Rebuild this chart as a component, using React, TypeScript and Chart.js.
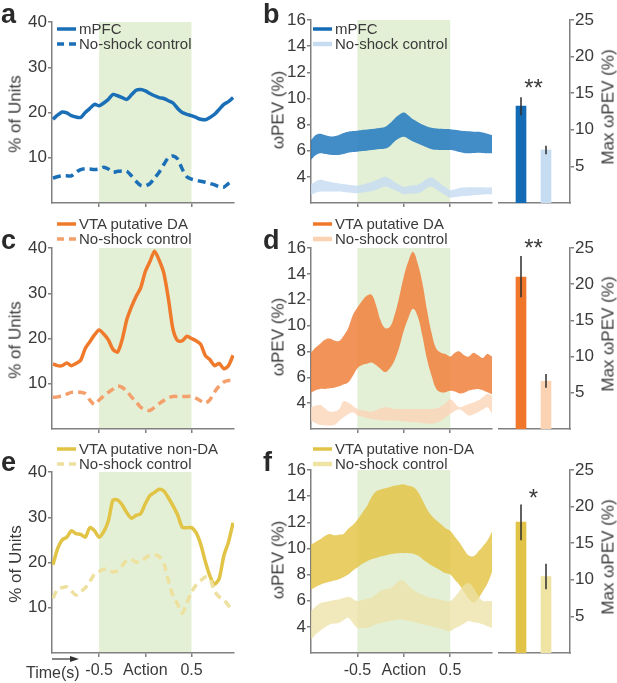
import { useEffect, useRef } from 'react';
import { Chart, ChartConfiguration, Plugin, registerables } from 'chart.js';

Chart.register(...registerables);

const FONT = '"Liberation Sans", Arial, Helvetica, sans-serif';
const INK = '#3a3a3a';
const AXIS = '#808080';
const SHADE = 'rgb(228,240,214)';

// time bins (s), 0 = action
const timeBins = [
  -1.0, -0.95, -0.9, -0.85, -0.8, -0.75, -0.7, -0.65, -0.6, -0.55,
  -0.5, -0.45, -0.4, -0.35, -0.3, -0.25, -0.2, -0.15, -0.1, -0.05,
  0.0, 0.05, 0.1, 0.15, 0.2, 0.25, 0.3, 0.35, 0.4, 0.45,
  0.5, 0.55, 0.6, 0.65, 0.7, 0.75, 0.8, 0.85, 0.9, 0.95,
];
const actionWindow = [-0.5, 0.5];
const timeTicks = [-0.5, 0, 0.5];
const timeTickLabels = ['-0.5', 'Action', '0.5'];
const unitTicks = [10, 20, 30, 40];
const pevTicks = [4, 6, 8, 10, 12, 14, 16];
const maxPevTicks = [5, 10, 15, 20, 25];

// % of units (a, c, e)
const mpfcUnits = [18.5, 19.4, 20.1, 19.9, 19.3, 19.0, 18.9, 20.0, 20.9, 21.8, 21.5, 22.1, 22.9, 24.0, 23.7, 23.3, 22.9, 23.9, 24.9, 25.1, 24.8, 24.2, 23.7, 23.3, 23.1, 22.6, 22.1, 20.9, 20.0, 19.6, 19.3, 18.9, 18.5, 18.4, 18.9, 19.6, 20.7, 21.8, 22.4, 23.3];
const mpfcCtrlUnits = [5.5, 5.8, 6.0, 6.0, 6.0, 6.8, 7.4, 7.6, 7.5, 7.4, 7.5, 7.9, 7.5, 6.8, 7.0, 7.1, 7.0, 6.0, 4.8, 3.9, 3.8, 4.3, 5.5, 6.8, 8.5, 10.0, 10.4, 9.7, 7.5, 5.8, 5.3, 5.0, 4.8, 4.6, 4.3, 4.0, 3.6, 3.5, 4.3, 5.0];
const daUnits = [14.4, 14.0, 14.0, 14.6, 14.0, 14.5, 15.2, 17.8, 19.3, 20.8, 21.9, 21.0, 19.7, 17.6, 17.0, 19.8, 24.2, 27.0, 29.3, 31.2, 34.8, 37.0, 39.3, 37.3, 34.5, 28.8, 22.0, 19.5, 19.5, 20.5, 20.0, 19.5, 18.7, 16.2, 15.3, 14.0, 14.5, 13.3, 14.0, 16.3];
const daCtrlUnits = [7.0, 7.1, 7.3, 7.7, 8.1, 8.1, 8.1, 7.8, 6.4, 5.4, 6.4, 7.3, 8.1, 8.8, 9.5, 9.2, 8.3, 7.1, 6.0, 4.8, 4.3, 4.1, 4.8, 5.6, 6.3, 6.9, 7.2, 7.2, 7.2, 7.2, 7.2, 6.8, 6.2, 5.7, 6.5, 8.2, 9.5, 10.4, 10.7, 10.7];
const nonDaUnits = [19.5, 23.0, 25.0, 25.6, 27.0, 26.4, 26.2, 25.6, 27.7, 27.0, 25.6, 26.8, 29.2, 33.8, 33.8, 32.7, 31.0, 29.8, 30.4, 30.8, 33.0, 34.8, 35.5, 36.2, 35.8, 34.3, 32.5, 30.5, 27.8, 27.7, 27.7, 26.6, 24.0, 20.2, 17.0, 15.2, 16.5, 21.5, 24.5, 28.8];
const nonDaCtrlUnits = [12.1, 14.1, 14.45, 14.6, 13.7, 12.8, 13.5, 14.4, 15.8, 17.4, 18.0, 18.5, 18.4, 17.9, 18.2, 19.3, 20.5, 20.6, 20.1, 20.2, 21.0, 21.6, 21.7, 21.3, 19.8, 16.0, 12.7, 10.75, 8.8, 11.1, 13.5, 15.0, 16.0, 16.8, 16.4, 13.6, 12.4, 11.7, 10.5, 9.35];

// wPEV bands, upper / lower edge (b, d, f)
const mpfcPevHi = [6.8, 7.2, 7.3, 7.2, 7.1, 7.1, 7.2, 7.35, 7.45, 7.5, 7.53, 7.58, 7.62, 7.66, 7.7, 7.75, 7.84, 8.1, 8.45, 8.75, 8.93, 8.7, 8.4, 8.2, 8.0, 7.85, 7.75, 7.7, 7.68, 7.66, 7.65, 7.6, 7.55, 7.5, 7.48, 7.46, 7.45, 7.4, 7.3, 7.2];
const mpfcPevLo = [5.3, 5.65, 5.8, 5.75, 5.7, 5.68, 5.68, 5.75, 5.85, 5.9, 5.93, 5.97, 6.0, 6.05, 6.1, 6.13, 6.17, 6.35, 6.7, 6.95, 7.07, 6.9, 6.7, 6.55, 6.4, 6.25, 6.12, 6.07, 6.05, 6.05, 6.05, 6.0, 5.9, 5.82, 5.8, 5.82, 5.85, 5.83, 5.8, 5.8];
const mpfcCtrlPevHi = [3.4, 3.65, 3.77, 3.7, 3.62, 3.55, 3.5, 3.45, 3.4, 3.35, 3.33, 3.4, 3.5, 3.6, 3.75, 3.9, 4.0, 3.85, 3.6, 3.4, 3.25, 3.3, 3.35, 3.4, 3.6, 3.85, 3.95, 3.75, 3.45, 3.2, 3.0, 3.05, 3.15, 3.18, 3.2, 3.2, 3.2, 3.2, 3.18, 3.2];
const mpfcCtrlPevLo = [2.62, 2.78, 2.88, 2.88, 2.88, 2.88, 2.88, 2.85, 2.8, 2.77, 2.75, 2.8, 2.85, 2.9, 3.0, 3.15, 3.26, 3.15, 3.0, 2.85, 2.67, 2.7, 2.73, 2.75, 2.9, 3.15, 3.25, 3.05, 2.8, 2.6, 2.42, 2.45, 2.5, 2.53, 2.56, 2.6, 2.62, 2.65, 2.67, 2.67];
const daPevHi = [7.9, 8.3, 8.6, 8.9, 9.0, 8.85, 8.8, 9.2, 9.8, 10.8, 11.4, 11.9, 12.3, 12.4, 11.6, 10.4, 9.8, 9.9, 10.8, 12.2, 13.8, 15.0, 15.7, 14.8, 13.3, 11.2, 9.4, 8.2, 7.9, 7.8, 7.6, 7.9, 8.0, 7.7, 7.6, 7.9, 7.7, 7.5, 7.8, 7.6];
const daPevLo = [4.8, 5.0, 5.1, 5.1, 5.15, 5.2, 5.3, 5.45, 5.6, 6.1, 6.7, 6.95, 7.05, 7.15, 6.95, 6.65, 6.4, 6.7, 7.3, 8.3, 9.6, 10.6, 11.3, 10.7, 9.2, 7.4, 6.1, 5.1, 4.85, 4.85, 4.95, 4.9, 4.75, 4.8, 4.97, 5.05, 5.1, 5.0, 4.85, 4.7];
const daCtrlPevHi = [3.68, 3.8, 3.85, 3.6, 3.35, 3.35, 3.5, 4.15, 4.05, 3.8, 3.55, 3.45, 3.4, 3.35, 3.45, 3.6, 3.68, 3.62, 3.55, 3.55, 3.55, 3.55, 3.55, 3.55, 3.55, 3.55, 3.55, 3.6, 3.75, 4.0, 4.3, 4.0, 3.68, 3.8, 3.94, 4.05, 4.2, 4.45, 4.7, 4.58];
const daCtrlPevLo = [2.65, 2.45, 2.3, 2.27, 2.27, 2.3, 2.6, 2.9, 3.15, 3.3, 3.05, 2.95, 2.85, 2.78, 2.72, 2.68, 2.65, 2.65, 2.65, 2.62, 2.58, 2.55, 2.52, 2.5, 2.47, 2.43, 2.4, 2.5, 2.62, 2.9, 3.16, 3.4, 3.5, 3.3, 3.04, 3.15, 3.3, 3.5, 3.68, 3.2];
const nonDaPevHi = [10.3, 10.5, 10.7, 10.95, 11.1, 11.0, 11.05, 11.1, 11.5, 11.8, 12.2, 12.7, 13.2, 13.9, 14.35, 14.5, 14.6, 14.7, 14.8, 14.85, 14.9, 14.8, 14.7, 14.35, 13.7, 13.0, 12.5, 12.15, 11.85, 11.55, 11.35, 10.9, 10.45, 9.9, 9.45, 9.4, 9.75, 10.15, 10.6, 11.3];
const nonDaPevLo = [6.85, 7.05, 7.22, 7.35, 7.45, 7.55, 7.65, 7.8, 8.0, 8.3, 8.55, 8.8, 9.0, 9.17, 9.27, 9.38, 9.45, 9.55, 9.62, 9.64, 9.64, 9.64, 9.6, 9.45, 9.2, 8.95, 8.7, 8.5, 8.3, 8.1, 8.0, 7.6, 7.2, 6.65, 6.15, 5.85, 6.15, 6.7, 7.3, 8.2];
const nonDaCtrlPevHi = [5.2, 5.55, 5.8, 5.9, 5.97, 6.05, 6.1, 6.2, 6.3, 6.15, 5.97, 6.05, 6.15, 6.23, 6.5, 6.75, 6.87, 6.95, 7.2, 7.55, 7.5, 7.13, 6.85, 6.6, 6.45, 6.3, 6.2, 6.15, 6.05, 6.0, 5.97, 6.3, 6.75, 7.2, 7.35, 7.0, 6.4, 6.0, 5.97, 5.97];
const nonDaCtrlPevLo = [3.03, 3.4, 3.7, 3.95, 4.18, 4.25, 4.3, 4.5, 4.7, 4.3, 3.92, 3.92, 3.92, 4.05, 4.2, 4.3, 4.38, 4.45, 4.52, 4.56, 4.52, 4.47, 4.4, 4.3, 4.2, 4.1, 4.05, 3.95, 3.85, 3.75, 3.67, 3.9, 4.05, 4.25, 4.44, 4.35, 4.3, 4.2, 4.05, 3.92];

// max wPEV bars: [shock, no-shock control]
const barSlots = [1, 2];
const mpfcMax = [13.25, 7.24];
const mpfcMaxTop = [14.45, 7.83];
const mpfcMaxBottom = [12.0, 6.65];
const daMax = [21.0, 6.6];
const daMaxTop = [23.9, 7.6];
const daMaxBottom = [18.2, 5.7];
const nonDaMax = [17.9, 10.45];
const nonDaMaxTop = [20.3, 12.2];
const nonDaMaxBottom = [15.4, 8.7];
const significance = ['**', '**', '*'];
const significanceAt = [16.4, 25.7, 21.9];

type Row = {
  letters: [string, string];
  name: string;
  line: string; dash: string; band: string; ctrlBand: string; bar: string; ctrlBar: string;
  units: number[]; ctrlUnits: number[];
  hi: number[]; lo: number[]; ctrlHi: number[]; ctrlLo: number[];
  max: number[]; maxTop: number[]; maxBottom: number[];
  sig: string; sigAt: number;
  unitsTop: number; pevTop: number; bottom: number; legendY: number; letterTop: number;
  showTime: boolean;
};

const rows: Row[] = [
  {
    letters: ['a', 'b'], name: 'mPFC',
    line: '#1b6fb7', dash: '#1b6fb7', band: 'rgba(30,118,190,0.84)', ctrlBand: 'rgba(196,219,241,0.8)', bar: '#136bb5', ctrlBar: '#c5dcf1',
    units: mpfcUnits, ctrlUnits: mpfcCtrlUnits,
    hi: mpfcPevHi, lo: mpfcPevLo, ctrlHi: mpfcCtrlPevHi, ctrlLo: mpfcCtrlPevLo,
    max: mpfcMax, maxTop: mpfcMaxTop, maxBottom: mpfcMaxBottom, sig: significance[0], sigAt: significanceAt[0],
    unitsTop: 22, pevTop: 20, bottom: 203, legendY: 29, letterTop: 1, showTime: false,
  },
  {
    letters: ['c', 'd'], name: 'VTA putative DA',
    line: '#f07a2c', dash: '#f4a06c', band: 'rgba(240,128,60,0.85)', ctrlBand: 'rgba(251,212,184,0.8)', bar: '#f0772a', ctrlBar: '#fbd3b3',
    units: daUnits, ctrlUnits: daCtrlUnits,
    hi: daPevHi, lo: daPevLo, ctrlHi: daCtrlPevHi, ctrlLo: daCtrlPevLo,
    max: daMax, maxTop: daMaxTop, maxBottom: daMaxBottom, sig: significance[1], sigAt: significanceAt[1],
    unitsTop: 248, pevTop: 248, bottom: 429, legendY: 224, letterTop: 227, showTime: false,
  },
  {
    letters: ['e', 'f'], name: 'VTA putative non-DA',
    line: '#e1c445', dash: '#eee09e', band: 'rgba(226,194,62,0.8)', ctrlBand: 'rgba(236,226,165,0.75)', bar: '#e1c447', ctrlBar: '#efe4a4',
    units: nonDaUnits, ctrlUnits: nonDaCtrlUnits,
    hi: nonDaPevHi, lo: nonDaPevLo, ctrlHi: nonDaCtrlPevHi, ctrlLo: nonDaCtrlPevLo,
    max: nonDaMax, maxTop: nonDaMaxTop, maxBottom: nonDaMaxBottom, sig: significance[2], sigAt: significanceAt[2],
    unitsTop: 472, pevTop: 470, bottom: 653, legendY: 449, letterTop: 449, showTime: true,
  },
];

const pts = (vals: number[]) => vals.map((y, i) => ({ x: timeBins[i], y }));
const fixedWidth = (w: number) => (scale: any) => { scale.width = w; };
const fixedHeight = (h: number) => (scale: any) => { scale.height = h; };

const actionShade: Plugin = {
  id: 'actionShade',
  beforeDraw(chart) {
    const { ctx, chartArea, scales } = chart;
    const x0 = scales.x.getPixelForValue(actionWindow[0]);
    const x1 = scales.x.getPixelForValue(actionWindow[1]);
    ctx.save();
    ctx.fillStyle = SHADE;
    ctx.fillRect(x0, chartArea.top, x1 - x0, chartArea.bottom - chartArea.top);
    ctx.restore();
  },
};

function axisLines() {
  return {
    grid: { display: true, drawOnChartArea: false, drawTicks: true, tickLength: 4, color: AXIS, lineWidth: 1.5 },
    border: { display: true, color: AXIS, width: 1.5 },
  };
}

function timeAxis(showLabels: boolean, height: number, min: number, max: number) {
  return {
    type: 'linear' as const,
    min, max,
    afterBuildTicks: (s: any) => { s.ticks = timeTicks.map((value) => ({ value })); },
    afterFit: fixedHeight(height),
    ...axisLines(),
    ticks: {
      display: showLabels, autoSkip: false, maxRotation: 0, padding: 4, color: INK,
      font: { family: FONT, size: 16 },
      callback: (_v: any, i: number) => timeTickLabels[i],
    },
  };
}

function valueAxis(min: number, max: number, ticks: number[], width: number) {
  return {
    type: 'linear' as const,
    min, max,
    afterBuildTicks: (s: any) => { s.ticks = ticks.map((value) => ({ value })); },
    afterFit: fixedWidth(width),
    ...axisLines(),
    ticks: { color: INK, padding: 1, font: { family: FONT, size: 17 } },
  };
}

const baseOptions = {
  responsive: false,
  animation: false as const,
  events: [] as any[],
};

function unitsConfig(row: Row): ChartConfiguration {
  return {
    type: 'line',
    data: {
      datasets: [
        { data: pts(row.ctrlUnits), borderColor: row.dash, borderWidth: 3.5, borderDash: [8, 5], pointRadius: 0, tension: 0.25, fill: false },
        { data: pts(row.units), borderColor: row.line, borderWidth: 3.5, borderJoinStyle: 'round', pointRadius: 0, tension: 0.25, fill: false },
      ],
    },
    options: {
      ...baseOptions,
      layout: { padding: { top: 22, right: 6, left: 0, bottom: 0 } },
      plugins: { legend: { display: false }, tooltip: { enabled: false } },
      scales: { x: timeAxis(row.showTime, 30, -1.01, 0.96), y: valueAxis(0, 40, unitTicks, 52) },
    } as any,
    plugins: [actionShade],
  };
}

function band(vals: number[], color: string, fill: any) {
  return { data: pts(vals), backgroundColor: color, borderColor: 'rgba(0,0,0,0)', borderWidth: 0, pointRadius: 0, tension: 0.4, fill };
}

function pevConfig(row: Row): ChartConfiguration {
  return {
    type: 'line',
    data: {
      datasets: [
        band(row.ctrlHi, row.ctrlBand, '+1'),
        band(row.ctrlLo, row.ctrlBand, false),
        band(row.hi, row.band, '+1'),
        band(row.lo, row.band, false),
      ],
    },
    options: {
      ...baseOptions,
      layout: { padding: { top: 20, right: 5, left: 0, bottom: 0 } },
      plugins: { legend: { display: false }, tooltip: { enabled: false } },
      scales: { x: timeAxis(row.showTime, 30, -1.0, 0.95), y: valueAxis(2, 16, pevTicks, 40) },
    } as any,
    plugins: [actionShade],
  };
}

function errorBars(row: Row): Plugin {
  return {
    id: 'errorBars',
    afterDatasetsDraw(chart) {
      const { ctx, scales } = chart;
      const x = scales.x;
      const y = scales.y;
      ctx.save();
      ctx.strokeStyle = '#2e2e2e';
      ctx.lineWidth = 1.5;
      barSlots.forEach((slot, i) => {
        const px = x.getPixelForValue(slot);
        ctx.beginPath();
        ctx.moveTo(px, y.getPixelForValue(row.maxTop[i]));
        ctx.lineTo(px, y.getPixelForValue(row.maxBottom[i]));
        ctx.stroke();
      });
      ctx.fillStyle = INK;
      ctx.font = `24px ${FONT}`;
      ctx.textAlign = 'center';
      ctx.textBaseline = 'alphabetic';
      const sx = x.getPixelForValue((barSlots[0] + barSlots[1]) / 2);
      ctx.fillText(row.sig, sx, y.getPixelForValue(row.sigAt) + 13);
      ctx.restore();
    },
  };
}

function maxConfig(row: Row): ChartConfiguration {
  return {
    type: 'bar',
    data: {
      datasets: [{
        data: barSlots.map((x, i) => ({ x, y: row.max[i] })),
        backgroundColor: [row.bar, row.ctrlBar],
        barThickness: 10,
      }],
    },
    options: {
      ...baseOptions,
      layout: { padding: { top: 20, right: 0, left: 0, bottom: 0 } },
      plugins: { legend: { display: false }, tooltip: { enabled: false } },
      scales: {
        x: {
          type: 'linear', min: 0.08, max: 2.96, offset: false,
          afterFit: fixedHeight(12),
          ticks: { display: false },
          grid: { display: false, offset: false },
          border: { display: true, color: AXIS, width: 1.5 },
        },
        y: { ...valueAxis(0, 25, maxPevTicks, 30), position: 'right' },
      },
    } as any,
    plugins: [errorBars(row)],
  };
}

function ChartCanvas({ make, left, top, width, height }: { make: () => ChartConfiguration; left: number; top: number; width: number; height: number }) {
  const canvasRef = useRef<HTMLCanvasElement>(null);
  useEffect(() => {
    if (!canvasRef.current) return;
    const chart = new Chart(canvasRef.current, make());
    return () => chart.destroy();
  }, []);
  return (
    <canvas ref={canvasRef} width={width} height={height}
      style={{ position: 'absolute', left, top, width, height }} />
  );
}

function LegendItem({ x, y, color, width, dashed, label }: { x: number; y: number; color: string; width: number; dashed?: boolean; label: string }) {
  return (
    <>
      <svg style={{ position: 'absolute', left: x, top: y - 4 }} width={19} height={8}>
        <line x1={0} y1={4} x2={19} y2={4} stroke={color} strokeWidth={width} strokeDasharray={dashed ? '7 5' : undefined} />
      </svg>
      <div style={{ position: 'absolute', left: x + 22, top: y - 9, fontSize: 15, lineHeight: '18px', whiteSpace: 'nowrap' }}>{label}</div>
    </>
  );
}

function VTitle({ cx, cy, text }: { cx: number; cy: number; text: string }) {
  return (
    <div style={{ position: 'absolute', left: cx, top: cy, transform: 'translate(-50%, -50%) rotate(-90deg)', fontSize: 17, lineHeight: 1, whiteSpace: 'nowrap' }}>{text}</div>
  );
}

function Letter({ x, y, text }: { x: number; y: number; text: string }) {
  return <div style={{ position: 'absolute', left: x, top: y, fontSize: 27, fontWeight: 'bold', lineHeight: 1, color: '#2a2a2a' }}>{text}</div>;
}

export default function App() {
  return (
    <div style={{ position: 'absolute', left: 0, top: 0, width: 617, height: 683, background: '#fff', fontFamily: FONT, color: INK, overflow: 'hidden' }}>
      {rows.map((row) => {
        const unitsCanvasTop = row.unitsTop - 22;
        const pevCanvasTop = row.pevTop - 20;
        const mid = (row.pevTop + row.bottom) / 2;
        return (
          <div key={row.name}>
            <ChartCanvas make={() => unitsConfig(row)} left={0} top={unitsCanvasTop} width={240} height={row.bottom - unitsCanvasTop + 30} />
            <ChartCanvas make={() => pevConfig(row)} left={271} top={pevCanvasTop} width={226} height={row.bottom - pevCanvasTop + 30} />
            <ChartCanvas make={() => maxConfig(row)} left={498} top={pevCanvasTop} width={102} height={row.bottom - pevCanvasTop + 12} />
            <Letter x={1} y={row.letterTop} text={row.letters[0]} />
            <Letter x={263} y={row.letterTop} text={row.letters[1]} />
            <LegendItem x={57} y={row.legendY} color={row.line} width={3.5} label={row.name} />
            <LegendItem x={57} y={row.legendY + 14.5} color={row.dash} width={3.5} dashed label="No-shock control" />
            <LegendItem x={313} y={row.legendY} color={row.bar} width={3.5} label={row.name} />
            <LegendItem x={313} y={row.legendY + 14.5} color={row.ctrlBar} width={4.5} label="No-shock control" />
            <VTitle cx={15} cy={(row.unitsTop + row.bottom) / 2 + 1} text="% of Units" />
            <VTitle cx={278} cy={mid - 2} text="ωPEV (%)" />
            <VTitle cx={608} cy={mid - 5} text="Max ωPEV (%)" />
          </div>
        );
      })}
      <svg style={{ position: 'absolute', left: 0, top: 650 }} width={90} height={20}>
        <line x1={52} y1={9} x2={76} y2={9} stroke="#333" strokeWidth={1.2} />
        <polygon points="79,9 70,6 70,12" fill="#333" />
      </svg>
      <div style={{ position: 'absolute', left: 26, top: 663, fontSize: 16, lineHeight: '20px', whiteSpace: 'nowrap' }}>Time(s)</div>
    </div>
  );
}
